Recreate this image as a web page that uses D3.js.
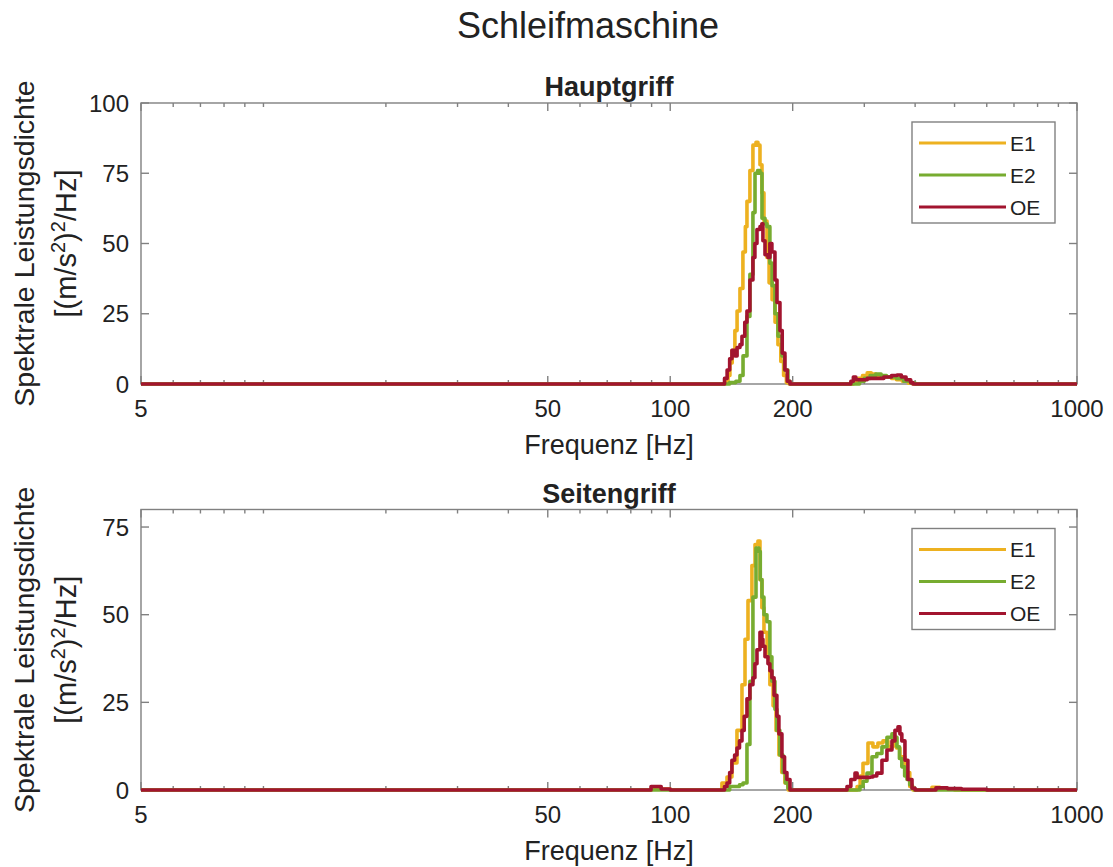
<!DOCTYPE html>
<html>
<head>
<meta charset="utf-8">
<script src="https://cdn.jsdelivr.net/npm/d3@7"></script>
<style>
  body { margin: 0; background: #fff; }
  text { font-family: "Liberation Sans", Arial, Helvetica, sans-serif; }
</style>
</head>
<body>
<svg id="chart" width="1113" height="867"></svg>
<script>
// ---------- DATA ----------
const chartTitle = "Schleifmaschine";
const panelTitles = ["Hauptgriff", "Seitengriff"];
const seriesNames = ["E1", "E2", "OE"];
const seriesColors = ["#EDB120", "#77AC30", "#A2142F"];
const xTickValues = [5, 50, 100, 200, 1000];
const xMinorTicks = [6,7,8,9,10,20,30,40,60,70,80,90,300,400,500,600,700,800,900];
const yTicksTop = [0, 25, 50, 75, 100];
const yTicksBottom = [0, 25, 50, 75];
const yDomainTop = [0, 100];
const yDomainBottom = [0, 80];

// Hauptgriff [frequency Hz, PSD]
const hauptE1 = [[5,0],[134,0],[136.4,0.5],[138.7,3],[140.2,7.5],[142,12],[144.2,19],[146,26],[148.4,34],[150.9,47],[153,56],[154.4,65],[157,76],[159.7,85],[162.5,86],[164.3,85],[166.2,78],[168.1,68],[170,58],[172.9,45],[175,36],[178,30],[181,22],[184,14],[187,8],[190,3],[193,0.5],[196,0],
  [275,0],[282,1],[290,2],[297,3],[305,4],[312,3.5],[320,3],[330,2.5],[340,2.5],[350,2],[360,1.5],[372,1],[385,0.3],[395,0],[1000,0]];
const hauptE2 = [[5,0],[138,0],[140,0.5],[145,1],[148.4,3],[151,10],[154.4,24],[157,39],[159.7,61],[161.6,75],[164,76],[166.2,75],[168.1,59],[171,57],[172.9,56],[175.8,43],[178,35],[180.9,25],[184,17],[188.2,10],[191,5],[194.7,1],[197,0],
  [285,0],[292,1],[300,2],[310,3],[320,3.5],[330,3],[340,2.5],[350,2.5],[360,2],[375,1],[390,0.3],[400,0],[1000,0]];
const hauptOE = [[5,0],[134,0],[136,2],[138,5],[140,9],[141.8,12],[144.2,10],[146,13],[148.4,14],[150.1,17],[152.5,22],[154.4,26],[157,37],[159.7,45],[161.5,50],[163.4,55],[166.2,56],[168,57],[169,51],[171,46],[173.9,45],[175.8,50],[177.8,47],[180.9,37],[183,29],[186.1,19],[188.5,11],[191.4,5],[194,1],[197,0],
  [272,0],[278,1],[282,2.5],[286,1.5],[295,1.5],[305,2],[320,2],[335,2.5],[350,3],[361,3.2],[370,2.5],[380,1.5],[390,0.5],[395,0],[1000,0]];

// Seitengriff [frequency Hz, PSD]
const seitE1 = [[5,0],[90,0.3],[100,0],[132,0],[134,2],[137.9,3.7],[141.8,7.7],[145.9,17],[150.1,30],[152.7,43],[155.3,54],[158.8,64],[161.6,70],[164.3,71],[166.2,60],[168,52],[170,45],[173,38],[175.8,30],[179,24],[182,17],[185,10],[188,5],[191.4,2],[195,0],
  [285,0],[288,1],[293,4],[297.8,7.6],[306.3,13.4],[315,12.3],[324,13.4],[333.4,14],[343,12.3],[352.8,15],[360,12],[367,9.5],[377.6,5],[388,1],[395,0],[420,0],[440,0.8],[460,0.5],[480,0.3],[500,0],[1000,0]];
const seitE2 = [[5,0],[138,0],[140,1],[148,1.5],[151,2],[154.4,13],[157,31],[159.7,55],[162.5,69],[165.3,68],[166.5,60],[168.1,55],[170,50],[172.9,48],[175.8,38],[177.8,31],[180.9,23],[182.9,17],[186,10],[189.3,5],[192,2],[194.7,0.5],[197,0],
  [290,0],[292.7,1],[298,2.5],[304.6,4.8],[313.3,9.5],[322,10.4],[331.5,12.3],[341,15],[350.8,16],[356,15],[360.9,12.3],[366,9],[371,6.6],[377,4],[382,3],[388,1.5],[393,0.5],[398,0],[1000,0]];
const seitOE = [[5,0],[85,0],[89.7,1],[95,0.3],[100,0],[134,0],[136,1],[137.9,2],[140,5],[141.8,8.5],[144,10],[145.9,12],[148,14],[150.1,17],[152,21],[154.4,26],[157,30],[159.7,32],[161.5,36],[163.4,40],[166.2,45],[168,43],[169,41],[171,38],[173.9,36],[175.8,34],[177.8,32],[180,27],[182.9,21],[185,16],[188.2,9.5],[191,5],[193.6,3],[197,0],
  [268,0],[272,1],[278,3],[284.6,4.8],[288,3.6],[300,3.6],[309.7,3.7],[315,4],[322,4.8],[331.5,8.5],[341,11.4],[350.8,14],[356.8,17],[363,18],[367,16],[371,14],[377.6,8.5],[384,3],[393,0.5],[400,0],[430,0],[450,0.6],[480,0.4],[520,0.2],[600,0],[1000,0]];

const panels = [
  { title: panelTitles[0], series: [hauptE1, hauptE2, hauptOE], yDomain: yDomainTop, yTicks: yTicksTop, top: 103, bottom: 384 },
  { title: panelTitles[1], series: [seitE1, seitE2, seitOE], yDomain: yDomainBottom, yTicks: yTicksBottom, top: 509.5, bottom: 790 }
];

// ---------- DRAW ----------
const svg = d3.select("#chart");
const left = 141, right = 1077;
const axisColor = "#808080";
const textColor = "#222";

svg.append("text").attr("x", 588).attr("y", 38).attr("text-anchor", "middle")
  .attr("font-size", 36).attr("fill", textColor).text(chartTitle);

const x = d3.scaleLog().domain([5, 1000]).range([left, right]);

panels.forEach((p, pi) => {
  const y = d3.scaleLinear().domain(p.yDomain).range([p.bottom, p.top]);
  const g = svg.append("g");
  const cx = (left + right) / 2;

  // subplot title
  g.append("text").attr("x", cx).attr("y", p.top - 7).attr("text-anchor", "middle")
    .attr("font-size", 27).attr("font-weight", "bold").attr("fill", textColor).text(p.title);

  // box
  g.append("rect").attr("x", left).attr("y", p.top).attr("width", right - left).attr("height", p.bottom - p.top)
    .attr("fill", "none").attr("stroke", axisColor).attr("stroke-width", 1.4);

  // x ticks (inside, bottom and top)
  const majorLen = 8, minorLen = 4;
  xTickValues.forEach(v => {
    [[p.bottom, -majorLen], [p.top, majorLen]].forEach(([yy, d]) => {
      g.append("line").attr("x1", x(v)).attr("x2", x(v)).attr("y1", yy).attr("y2", yy + d)
        .attr("stroke", axisColor).attr("stroke-width", 1.4);
    });
  });
  xMinorTicks.forEach(v => {
    [[p.bottom, -minorLen], [p.top, minorLen]].forEach(([yy, d]) => {
      g.append("line").attr("x1", x(v)).attr("x2", x(v)).attr("y1", yy).attr("y2", yy + d)
        .attr("stroke", axisColor).attr("stroke-width", 1.4);
    });
  });
  // x tick labels
  g.selectAll(null).data(xTickValues).enter().append("text")
    .attr("x", d => x(d)).attr("y", p.bottom + 33).attr("text-anchor", "middle")
    .attr("font-size", 24).attr("fill", textColor).text(d => d);
  // x label
  g.append("text").attr("x", cx).attr("y", p.bottom + 70).attr("text-anchor", "middle")
    .attr("font-size", 27).attr("fill", textColor).text("Frequenz [Hz]");

  // y ticks
  p.yTicks.forEach(v => {
    g.append("line").attr("x1", left).attr("x2", left + 8).attr("y1", y(v)).attr("y2", y(v))
      .attr("stroke", axisColor).attr("stroke-width", 1.4);
    g.append("line").attr("x1", right).attr("x2", right - 8).attr("y1", y(v)).attr("y2", y(v))
      .attr("stroke", axisColor).attr("stroke-width", 1.4);
  });
  g.selectAll(null).data(p.yTicks).enter().append("text")
    .attr("x", left - 12).attr("y", d => y(d) + 8.5).attr("text-anchor", "end")
    .attr("font-size", 24).attr("fill", textColor).text(d => d);

  // y label (two lines)
  const cy = (p.top + p.bottom) / 2;
  g.append("text").attr("transform", `translate(34,${cy}) rotate(-90)`).attr("text-anchor", "middle")
    .attr("font-size", 28.5).attr("fill", textColor).text("Spektrale Leistungsdichte");
  const t2 = g.append("text").attr("transform", `translate(76,${cy}) rotate(-90)`).attr("text-anchor", "middle")
    .attr("font-size", 29).attr("fill", textColor);
  t2.append("tspan").text("[(m/s");
  t2.append("tspan").attr("font-size", 20).attr("dy", -11).text("2");
  t2.append("tspan").attr("dy", 11).text(")");
  t2.append("tspan").attr("font-size", 20).attr("dy", -11).text("2");
  t2.append("tspan").attr("dy", 11).text("/Hz]");

  // clip
  const clipId = "clip" + pi;
  svg.append("clipPath").attr("id", clipId).append("rect")
    .attr("x", left - 2).attr("y", p.top).attr("width", right - left + 4).attr("height", p.bottom - p.top + 4);

  const line = d3.line().x(d => x(d[0])).y(d => y(d[1])).curve(d3.curveStepAfter);
  p.series.forEach((s, si) => {
    g.append("path").datum(s).attr("d", line).attr("fill", "none")
      .attr("stroke", seriesColors[si]).attr("stroke-width", 3.6)
      .attr("stroke-linejoin", "round").attr("clip-path", `url(#${clipId})`);
  });

  // legend
  const lx = 912, ly = p.top + 19, lw = 143, lh = 101;
  g.append("rect").attr("x", lx).attr("y", ly).attr("width", lw).attr("height", lh)
    .attr("fill", "#fff").attr("stroke", axisColor).attr("stroke-width", 1.4);
  seriesNames.forEach((n, i) => {
    const yy = ly + 21 + i * 32;
    g.append("line").attr("x1", lx + 7).attr("x2", lx + 94).attr("y1", yy).attr("y2", yy)
      .attr("stroke", seriesColors[i]).attr("stroke-width", 3.2);
    g.append("text").attr("x", lx + 98).attr("y", yy + 7.5).attr("font-size", 21)
      .attr("fill", textColor).text(n);
  });
});
</script>
</body>
</html>
